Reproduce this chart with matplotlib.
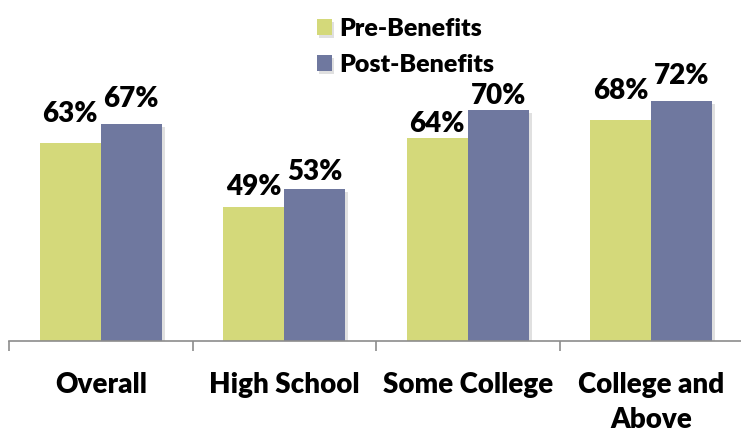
import matplotlib
matplotlib.use("Agg")
import matplotlib.pyplot as plt
import matplotlib.patheffects as pe
import numpy as np

categories = ["Overall", "High School", "Some College", "College and\nAbove"]
pre_benefits = [63, 49, 64, 68]
post_benefits = [67, 53, 70, 72]
series_names = ["Pre-Benefits", "Post-Benefits"]

# gap between bar top and label baseline, in points (labels were hand-placed)
pre_label_gap = [15, 9, 4.5, 15]
post_label_gap = [12, 6, 4.5, 12]

plt.rcParams['font.family'] = ['Lato', 'DejaVu Sans']

pre_color = "#D4D97A"
post_color = "#6F789F"
axis_gray = "#8C8C8C"
wt = "heavy"

fig = plt.figure(figsize=(7.41, 4.32), dpi=100)
ax = fig.add_axes([9 / 741, 1 - 341 / 432, 734 / 741, 323 / 432])

x = np.arange(len(categories))
w = 0.333
shadow = [pe.SimplePatchShadow(offset=(2, -2), shadow_rgbFace="k", alpha=0.12), pe.Normal()]
b1 = ax.bar(x - w / 2, pre_benefits, w, color=pre_color, label=series_names[0], path_effects=shadow, zorder=2)
b2 = ax.bar(x + w / 2, post_benefits, w, color=post_color, label=series_names[1], path_effects=shadow, zorder=2)

for bars, vals, gaps in ((b1, pre_benefits, pre_label_gap), (b2, post_benefits, post_label_gap)):
    for r, v, g in zip(bars, vals, gaps):
        ax.annotate(f"{v}%", (r.get_x() + r.get_width() / 2, v),
                    xytext=(0, g), textcoords="offset points",
                    ha="center", va="baseline", fontsize=20, fontweight=wt)

ax.set_xlim(-0.5, len(categories) - 0.5)
ax.set_ylim(20, 90)

for s in ("top", "right", "left"):
    ax.spines[s].set_visible(False)
ax.spines["bottom"].set_color(axis_gray)
ax.spines["bottom"].set_linewidth(1.2)
ax.set_yticks([])

ax.set_xticks(x)
ax.set_xticklabels(categories, fontsize=20, fontweight=wt, va="top", linespacing=1.45)
ax.tick_params(axis="x", which="major", length=0, pad=22)
ax.set_xticks(np.arange(-0.5, len(categories) + 0.5, 1), minor=True)
ax.tick_params(axis="x", which="minor", length=7.5, width=1.2, color=axis_gray)

fig.legend(handles=[b1, b2], labels=series_names, loc="upper left",
           bbox_to_anchor=(294 / 741, 1.01), frameon=False,
           prop={"size": 18, "weight": wt}, handlelength=0.6, handleheight=0.6,
           labelspacing=0.56, handletextpad=0.3)

fig.savefig("out.png", dpi=100)
